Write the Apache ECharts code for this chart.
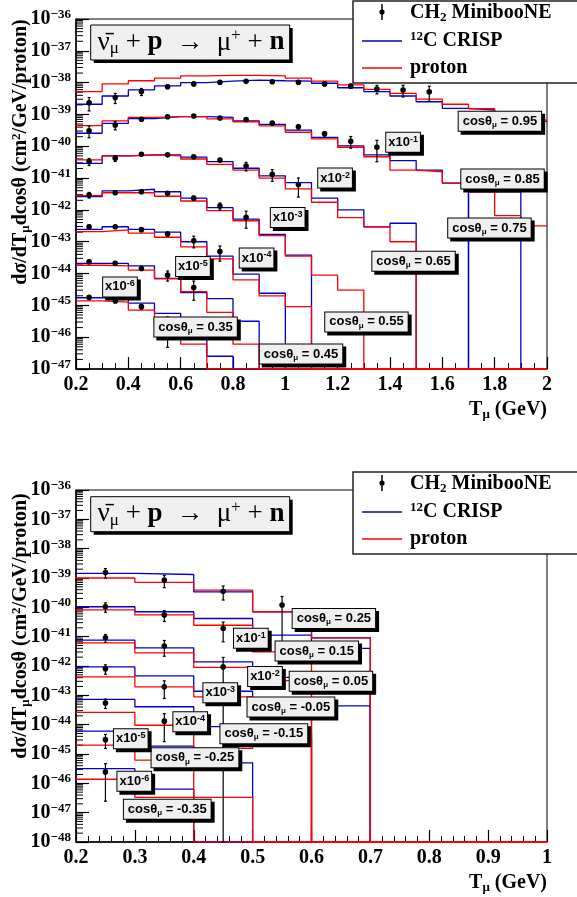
<!DOCTYPE html>
<html>
<head>
<meta charset="utf-8">
<script src="https://cdn.jsdelivr.net/npm/echarts@6/dist/echarts.min.js"></script>
<style>
html,body{margin:0;padding:0;background:#fff;}
#chart{width:577px;height:897px;}
</style>
</head>
<body>
<div id="chart"></div>
<script>
// ---- Binning (muon kinetic energy, GeV) ----
const edgesTop = [0.2,0.3,0.4,0.5,0.6,0.7,0.8,0.9,1.0,1.1,1.2,1.3,1.4,1.5,1.6,1.7,1.8,1.9,2.0];
const edgesBottom = [0.2,0.3,0.4,0.5,0.6,0.7,0.8,0.9,1.0];

// ---- Angular slices; slice k is drawn multiplied by 10^-k ----
const cosTop = ['0.95','0.85','0.75','0.65','0.55','0.45','0.35'];
const cosBottom = ['0.25','0.15','0.05','-0.05','-0.15','-0.25','-0.35'];

// log10 of d2sigma/dT dcos (cm^2/GeV/proton), unscaled; null = empty bin
const crispTop = [
  [-38.68,-38.42,-38.23,-38.10,-38.00,-37.95,-37.92,-37.94,-37.95,-38.02,-38.16,-38.28,-38.42,-38.60,-38.81,-38.86,-39.05,-39.22],
  [-38.59,-38.28,-38.13,-38.07,-38.07,-38.09,-38.20,-38.31,-38.49,-38.72,-38.99,-39.27,-39.45,-39.75,-40.16],
  [-38.54,-38.30,-38.27,-38.27,-38.34,-38.48,-38.69,-38.93,-39.14,-39.63,-40.00,-40.53,-40.42,null,null,-39.43,-39.43],
  [-38.58,-38.40,-38.35,-38.43,-38.63,-38.93,-39.29,-39.77,-40.42],
  [-38.61,-38.53,-38.61,-38.70,-39.00,-39.45,-40.02,-40.62],
  [-38.68,-38.68,-38.76,-39.15,-39.60,-39.79,-40.50],
  [-38.76,-38.81,-38.93,-39.25,-39.90,-40.60]
];
const protonTop = [
  [-38.28,-38.04,-37.94,-37.86,-37.79,-37.77,-37.77,-37.79,-37.86,-37.95,-38.07,-38.21,-38.34,-38.52,-38.68,-38.82,-39.00,-39.18],
  [-38.35,-38.20,-38.09,-38.07,-38.07,-38.14,-38.23,-38.36,-38.56,-38.77,-39.03,-39.33,-39.75,-39.80,-40.16,-40.43,-41.18,-41.50],
  [-38.43,-38.30,-38.27,-38.30,-38.40,-38.57,-38.75,-39.00,-39.34,-39.76,-40.24,-40.53,-41.00],
  [-38.55,-38.46,-38.46,-38.57,-38.72,-39.02,-39.34,-39.81,-40.45,-41.05,-41.52],
  [-38.68,-38.63,-38.73,-38.86,-39.16,-39.54,-40.20,-40.70,-41.04],
  [-38.74,-38.76,-38.89,-39.17,-39.57,-40.22,-41.22],
  [-38.86,-38.90,-39.15,-39.60,-40.22]
];
const dataTop = [
  [-38.63,-38.47,-38.28,-38.13,-38.04,-37.99,-37.96,-37.97,-37.99,-38.04,-38.11,-38.20,-38.23,-38.29],
  [-38.51,-38.33,-38.15,-38.07,-38.05,-38.11,-38.16,-38.27,-38.39,-38.61,-38.84,-39.03],
  [-38.48,-38.38,-38.25,-38.27,-38.33,-38.43,-38.62,-38.88,-39.20],
  [-38.53,-38.46,-38.43,-38.48,-38.63,-38.88,-39.23],
  [-38.53,-38.53,-38.62,-38.76,-38.97,-39.31],
  [-38.63,-38.68,-38.84,-39.05,-39.44],
  [-38.75,-38.86,-39.04,-39.62]
];
// relative uncertainty of each measured point
const relErrTop = [
  [0.45,0.35,0.25,0.12,0.08,0.08,0.08,0.08,0.10,0.12,0.15,0.30,0.40,0.50],
  [0.40,0.30,0.12,0.08,0.08,0.08,0.10,0.12,0.15,0.15,0.40,0.65],
  [0.25,0.20,0.10,0.10,0.10,0.12,0.30,0.40,0.60],
  [0.20,0.12,0.10,0.10,0.15,0.25,0.55],
  [0.15,0.10,0.12,0.15,0.40,0.50],
  [0.12,0.12,0.12,0.35,0.60],
  [0.12,0.12,0.15,0.80]
];

const crispBottom = [
  [-38.84,-38.88,-39.47,-40.15,-41.04],
  [-38.98,-39.15,-39.38,-39.95,-40.40],
  [-39.12,-39.38,-39.86,-40.39,-40.60],
  [-39.03,-39.34,-39.86,-40.20,-40.36],
  [-39.14,-39.39,-40.07,-40.30],
  [-39.22,-39.73,-40.30],
  [-39.50,-40.20]
];
const protonBottom = [
  [-39.00,-39.15,-39.41,-40.15,-41.04],
  [-39.09,-39.26,-39.61,-40.52],
  [-39.21,-39.55,-40.05,-40.50,-40.80],
  [-39.37,-39.71,-40.05,-40.60],
  [-39.58,-40.02,-40.81,-40.51],
  [-39.70,-40.21,-41.48],
  [-39.86,-40.48]
];
const dataBottom = [
  [-38.81,-39.07,-39.45,-39.92],
  [-38.98,-39.26,-39.72],
  [-39.04,-39.32,-40.03],
  [-39.09,-39.71],
  [-39.26,-39.88],
  [-39.51],
  [-39.61]
];
const relErrBottom = [
  [0.35,0.45,0.50,0.95],
  [0.35,0.40,0.65],
  [0.30,0.55,1.10],
  [0.35,0.60],
  [0.35,0.80],
  [0.50],
  [0.90]
];

// Slice captions and scale-factor tags: [T, log10 position, kind, text]
const tagsTop = [
  [1.82,-39.21,'cos','0.95'],[1.83,-41.03,'cos','0.85'],[1.78,-42.57,'cos','0.75'],
  [1.49,-43.61,'cos','0.65'],[1.31,-45.52,'cos','0.55'],[1.06,-46.53,'cos','0.45'],
  [0.657,-45.68,'cos','0.35'],
  [1.45,-39.87,'x','1'],[1.19,-41.0,'x','2'],[1.009,-42.24,'x','3'],
  [0.89,-43.51,'x','4'],[0.647,-43.78,'x','5'],[0.368,-44.42,'x','6']
];
const tagsBottom = [
  [0.638,-40.38,'cos','0.25'],[0.609,-41.49,'cos','0.15'],[0.633,-42.52,'cos','0.05'],
  [0.565,-43.40,'cos','-0.05'],[0.519,-44.31,'cos','-0.15'],[0.402,-45.13,'cos','-0.25'],
  [0.355,-46.88,'cos','-0.35'],
  [0.497,-41.05,'x','1'],[0.521,-42.36,'x','2'],[0.445,-42.91,'x','3'],
  [0.394,-43.90,'x','4'],[0.293,-44.48,'x','5'],[0.299,-45.93,'x','6']
];

const panels = [
  {edges: edgesTop, crisp: crispTop, proton: protonTop, data: dataTop, err: relErrTop, tags: tagsTop, yMin: -47, yMax: -36, xMin: 0.2, xMax: 2.0, xStep: 0.2, xMinor: 4},
  {edges: edgesBottom, crisp: crispBottom, proton: protonBottom, data: dataBottom, err: relErrBottom, tags: tagsBottom, yMin: -48, yMax: -36, xMin: 0.2, xMax: 1.0, xStep: 0.1, xMinor: 5}
];

const SERIF = 'Liberation Serif';
const SANS = 'Liberation Sans';
const BLUE = '#0000c8';
const RED = '#ff0000';

// Step outline of a histogram; empty bins sit on the lower frame
function stepPoints(edges, vals, k, floor) {
  const pts = [];
  for (let i = 0; i < edges.length - 1; i++) {
    const v = vals[i];
    pts.push([edges[i], (v == null) ? floor : v - k]);
  }
  pts.push([edges[edges.length - 1], pts[pts.length - 1][1]]);
  return pts;
}

function errPoints(edges, vals, errs, k, floor) {
  return vals.map((v, i) => {
    const x = (edges[i] + edges[i + 1]) / 2;
    const y = v - k;
    const r = errs[i];
    const hi = y + Math.log10(1 + r);
    const lo = r >= 1 ? floor : Math.max(floor, y + Math.log10(1 - r));
    return [x, y, lo, hi];
  });
}

function renderErr(params, api) {
  const p = api.coord([api.value(0), api.value(1)]);
  const lo = api.coord([api.value(0), api.value(2)]);
  const hi = api.coord([api.value(0), api.value(3)]);
  const s = {stroke: '#000', lineWidth: 1.2};
  return {type: 'group', children: [
    {type: 'line', shape: {x1: p[0], y1: lo[1], x2: p[0], y2: hi[1]}, style: s},
    {type: 'line', shape: {x1: p[0] - 1.5, y1: hi[1], x2: p[0] + 1.5, y2: hi[1]}, style: s},
    {type: 'line', shape: {x1: p[0] - 1.5, y1: lo[1], x2: p[0] + 1.5, y2: lo[1]}, style: s},
    {type: 'circle', shape: {cx: p[0], cy: p[1], r: 2.8}, style: {fill: '#000'}}
  ]};
}

const tagRich = {
  t: {fontFamily: SANS, fontWeight: 'bold', fontSize: 13, lineHeight: 15, fill: '#000'},
  u: {fontFamily: SANS, fontWeight: 'bold', fontSize: 8, lineHeight: 3, verticalAlign: 'bottom', fill: '#000'},
  p: {fontFamily: SANS, fontWeight: 'bold', fontSize: 9, lineHeight: 7, verticalAlign: 'top', fill: '#000'}
};

function makeTagRenderer(tags) {
  return function (params, api) {
    const tag = tags[params.dataIndex];
    const p = api.coord([api.value(0), api.value(1)]);
    const text = tag[2] === 'cos'
      ? '{t|cosθ}{u|μ}{t| = ' + tag[3] + '}'
      : '{t|x10}{p|-' + tag[3] + '}';
    return {
      type: 'text', x: p[0], y: p[1], z2: 10,
      style: {
        text: text, rich: tagRich, align: 'center', verticalAlign: 'middle',
        fontFamily: SANS, fontWeight: 'bold', fontSize: 13,
        backgroundColor: '#efefef', borderColor: '#000', borderWidth: 1,
        padding: tag[2] === 'cos' ? [2, 4, 2, 4] : [2, 2, 2, 2],
        shadowColor: '#000', shadowOffsetX: 3, shadowOffsetY: 3, shadowBlur: 0
      }
    };
  };
}

// log-decade minor ticks (2..9) along the left frame
function minorTickRenderer(xMin) {
  return function (params, api) {
    const p = api.coord([xMin, api.value(0)]);
    return {type: 'line', shape: {x1: p[0], y1: p[1], x2: p[0] + 7, y2: p[1]}, style: {stroke: '#000', lineWidth: 1}};
  };
}

const grids = [
  {left: 76, top: 19, width: 471, height: 350, show: true, borderColor: '#000', borderWidth: 1},
  {left: 76, top: 490, width: 471, height: 352, show: true, borderColor: '#000', borderWidth: 1}
];

const xAxes = panels.map((P, g) => ({
  gridIndex: g, type: 'value', min: P.xMin, max: P.xMax, interval: P.xStep,
  axisLine: {onZero: false, lineStyle: {color: '#000', width: 1.5}},
  axisTick: {inside: true, length: 12, lineStyle: {color: '#000', width: 1.2}},
  minorTick: {show: true, splitNumber: P.xMinor, length: 6, lineStyle: {color: '#000', width: 1}},
  splitLine: {show: false},
  axisLabel: {margin: 6, color: '#000', fontFamily: SERIF, fontWeight: 'bold', fontSize: 20, showMinLabel: true, showMaxLabel: true}
}));

const yAxes = panels.map((P, g) => ({
  gridIndex: g, type: 'value', min: P.yMin, max: P.yMax, interval: 1,
  axisLine: {onZero: false, lineStyle: {color: '#000', width: 1.5}},
  axisTick: {inside: true, length: 13, lineStyle: {color: '#000', width: 1.2}},
  splitLine: {show: false},
  axisLabel: {
    margin: 5,
    formatter: v => '{b|10}{s|−' + Math.abs(v) + '}',
    rich: {
      b: {fontFamily: SERIF, fontWeight: 'bold', fontSize: 20, lineHeight: 22, color: '#000'},
      s: {fontFamily: SERIF, fontWeight: 'bold', fontSize: 13, lineHeight: 12, verticalAlign: 'top', color: '#000'}
    }
  }
}));

const series = [];
panels.forEach((P, g) => {
  const minor = [];
  for (let d = P.yMin; d < P.yMax; d++) {
    for (let m = 2; m <= 9; m++) minor.push([d + Math.log10(m)]);
  }
  series.push({type: 'custom', xAxisIndex: g, yAxisIndex: g, data: minor, renderItem: minorTickRenderer(P.xMin), silent: true, z: 1});

  for (let k = 0; k < 7; k++) {
    series.push({
      type: 'line', step: 'end', xAxisIndex: g, yAxisIndex: g, symbol: 'none', silent: true,
      data: stepPoints(P.edges, P.crisp[k], k, P.yMin),
      lineStyle: {color: BLUE, width: 1.3}, z: 2
    });
    series.push({
      type: 'line', step: 'end', xAxisIndex: g, yAxisIndex: g, symbol: 'none', silent: true,
      data: stepPoints(P.edges, P.proton[k], k, P.yMin),
      lineStyle: {color: RED, width: 1.3}, z: 3
    });
  }
  for (let k = 0; k < 7; k++) {
    series.push({
      type: 'custom', xAxisIndex: g, yAxisIndex: g, silent: true, z: 4,
      data: errPoints(P.edges, P.data[k], P.err[k], k, P.yMin),
      renderItem: renderErr
    });
  }
  series.push({
    type: 'custom', xAxisIndex: g, yAxisIndex: g, silent: true, z: 6, clip: false,
    data: P.tags.map(t => [t[0], t[1]]),
    renderItem: makeTagRenderer(P.tags)
  });
});

// ---- frame decorations: titles, reaction box, legend ----
const serifRich = {
  n: {fontFamily: SERIF, fontWeight: 'bold', fontSize: 20, fill: '#000', lineHeight: 22},
  d: {fontFamily: SERIF, fontWeight: 'bold', fontSize: 13, fill: '#000', lineHeight: 6, verticalAlign: 'bottom'},
  u: {fontFamily: SERIF, fontWeight: 'bold', fontSize: 13, fill: '#000', lineHeight: 10, verticalAlign: 'top'}
};
const reactRich = {
  g: {fontFamily: SERIF, fontSize: 27, fill: '#000', lineHeight: 30},
  b: {fontFamily: SERIF, fontWeight: 'bold', fontSize: 27, fill: '#000', lineHeight: 30},
  d: {fontFamily: SERIF, fontSize: 17, fill: '#000', lineHeight: 8, verticalAlign: 'bottom'},
  u: {fontFamily: SERIF, fontSize: 17, fill: '#000', lineHeight: 14, verticalAlign: 'top'}
};
const reactText = '{g|ν̄}{d|μ}{g| + }{b|p}{g|  →  μ}{u|+}{g| + }{b|n}';
const yTitle = '{n|dσ/dT}{d|μ}{n|dcosθ (cm}{u|2}{n|/GeV/proton)}';
const xTitle = '{n|T}{d|μ}{n| (GeV)}';

function panelDecor(yTitleY, xTitleY, boxY, legY) {
  return [
    {type: 'text', x: 21, y: yTitleY, rotation: Math.PI / 2, z: 50,
     style: {text: yTitle, rich: serifRich, align: 'center', verticalAlign: 'middle'}},
    {type: 'text', x: 547, y: xTitleY, z: 50,
     style: {text: xTitle, rich: serifRich, align: 'right', verticalAlign: 'middle'}},
    {type: 'rect', shape: {x: 93.7, y: boxY + 3, width: 199, height: 35}, style: {fill: '#000'}, z: 50},
    {type: 'rect', shape: {x: 90.7, y: boxY, width: 199, height: 35}, style: {fill: '#efefef', stroke: '#000', lineWidth: 1}, z: 51},
    {type: 'text', x: 191, y: boxY + 17.5, z: 52,
     style: {text: reactText, rich: reactRich, align: 'center', verticalAlign: 'middle'}},
    {type: 'rect', shape: {x: 353, y: legY - 12, width: 240, height: 82}, style: {fill: '#fff', stroke: '#222', lineWidth: 1.5}, z: 60},
    {type: 'line', shape: {x1: 382, y1: legY - 1 - 8, x2: 382, y2: legY - 1 + 8}, style: {stroke: '#000', lineWidth: 1.5}, z: 61},
    {type: 'circle', shape: {cx: 382, cy: legY - 1, r: 2.6}, style: {fill: '#000'}, z: 61},
    {type: 'text', x: 410, y: legY, z: 61,
     style: {text: '{n|CH}{d|2}{n| MinibooNE}', rich: serifRich, align: 'left', verticalAlign: 'middle'}},
    {type: 'line', shape: {x1: 362, y1: legY + 28, x2: 402, y2: legY + 28}, style: {stroke: BLUE, lineWidth: 1.3}, z: 61},
    {type: 'text', x: 410, y: legY + 28, z: 61,
     style: {text: '{u|12}{n|C CRISP}', rich: serifRich, align: 'left', verticalAlign: 'middle'}},
    {type: 'line', shape: {x1: 362, y1: legY + 55, x2: 402, y2: legY + 55}, style: {stroke: RED, lineWidth: 1.3}, z: 61},
    {type: 'text', x: 410, y: legY + 55, z: 61,
     style: {text: '{n|proton}', rich: serifRich, align: 'left', verticalAlign: 'middle'}}
  ];
}

const chart = echarts.init(document.getElementById('chart'), null, {renderer: 'canvas'});
chart.setOption({
  animation: false,
  backgroundColor: '#fff',
  grid: grids,
  xAxis: xAxes,
  yAxis: yAxes,
  series: series,
  graphic: {elements: panelDecor(152, 410, 25, 13).concat(panelDecor(626, 883, 496.7, 484))}
});
</script>
</body>
</html>
